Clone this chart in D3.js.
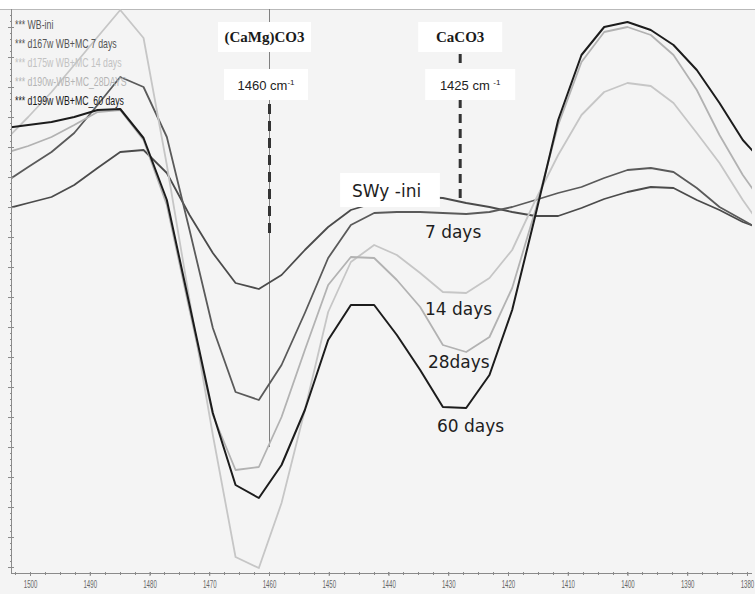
<!DOCTYPE html>
<html>
<head>
<meta charset="utf-8">
<script src="https://cdn.jsdelivr.net/npm/d3@7"></script>
<style>
  html, body { margin: 0; padding: 0; background: #ffffff; }
  svg { display: block; }
</style>
</head>
<body>
<svg id="chart" width="755" height="594"></svg>
<script>
// FTIR spectra, 1500-1380 cm-1 (arbitrary absorbance units)
const wavenumbers = [1504.1, 1500.3, 1496.4, 1492.6, 1488.7, 1484.9, 1481.0, 1477.1, 1473.3, 1469.4,
  1465.6, 1461.7, 1457.9, 1454.0, 1450.1, 1446.3, 1442.4, 1438.6, 1434.7, 1430.9,
  1427.0, 1423.1, 1419.3, 1415.4, 1411.6, 1407.7, 1403.9, 1400.0, 1396.1, 1392.3,
  1388.4, 1384.6, 1380.7, 1376.9];

const wbIni = [36.4, 37.0, 37.6, 38.8, 40.5, 42.1, 42.3, 40.0, 35.8, 32.0,
  29.0, 28.4, 29.8, 32.3, 34.6, 36.3, 37.0, 37.4, 37.6, 37.5,
  37.0, 36.6, 36.1, 35.7, 35.7, 36.5, 37.4, 38.1, 38.6, 38.5,
  37.3, 36.3, 35.1, 34.3];

const days7 = [39.1, 40.6, 42.1, 44.0, 46.8, 49.6, 48.6, 43.6, 34.3, 24.5,
  18.1, 17.3, 20.8, 26.0, 31.5, 34.8, 36.0, 36.1, 36.1, 36.0,
  35.9, 36.1, 36.6, 37.3, 38.0, 38.6, 39.5, 40.3, 40.5, 40.1,
  38.5, 36.6, 35.3, 34.0];

const days14 = [43.3, 45.6, 48.1, 50.8, 53.6, 56.3, 53.5, 40.8, 27.3, 13.8,
  1.6, 0.5, 7.0, 16.3, 26.1, 31.1, 32.8, 31.8, 30.0, 28.1,
  28.0, 29.5, 32.3, 37.3, 41.8, 45.8, 48.1, 49.0, 48.7, 47.0,
  44.0, 41.0, 37.3, 34.1];

const days28 = [42.0, 42.7, 43.6, 44.8, 46.1, 46.3, 43.3, 36.8, 26.3, 15.8,
  10.3, 10.6, 15.6, 22.3, 28.8, 31.6, 31.5, 29.3, 26.6, 22.8,
  22.1, 23.6, 28.5, 36.3, 44.8, 51.1, 54.1, 54.6, 53.8, 51.8,
  48.3, 43.8, 39.8, 36.6];

const days60 = [44.5, 44.8, 45.1, 45.6, 46.3, 46.4, 43.5, 37.3, 26.8, 16.0,
  8.8, 7.5, 10.8, 16.3, 23.3, 26.8, 26.8, 23.8, 20.3, 16.6,
  16.5, 19.8, 26.3, 35.8, 45.3, 51.8, 54.6, 55.1, 54.3, 52.8,
  50.3, 47.0, 43.3, 40.8];

const legendNames = ["*** WB-ini", "*** d167w WB+MC 7 days", "*** d175w WB+MC 14 days",
  "*** d190w-WB+MC_28DAYS", "*** d199w WB+MC_60 days"];
const curveTags = ["SWy -ini", "7 days", "14 days", "28days", "60 days"];
const lineColors = ["#4b4b4b", "#5a5a5a", "#c6c6c6", "#b2b2b2", "#1c1c1c"];
const legendColors = ["#555555", "#555555", "#c2c2c2", "#b4b4b4", "#1a1a1a"];

const xTickLabels = [1500, 1490, 1480, 1470, 1460, 1450, 1440, 1430, 1420, 1410, 1400, 1390, 1380];

const bandNames = ["(CaMg)CO3", "CaCO3"];
const bandWavenumbers = ["1460 cm", "1425 cm "];
const bandPositions = [1460, 1428];

const seriesValues = [wbIni, days7, days14, days28, days60];

(function draw() {
  const svg = d3.select("#chart");
  const W = 755, H = 594;
  const pLeft = 11, pRight = 752, pTop = 9, pBottom = 573;

  const x = d3.scaleLinear().domain([1503.35, 1379.16]).range([10, 752]);
  const y = d3.scaleLinear().domain([0, 56.4]).range([pBottom, pTop]);

  // plot background
  svg.append("rect").attr("x", 0).attr("y", pTop).attr("width", W).attr("height", H - pTop)
    .attr("fill", "#f4f4f4");
  svg.append("line").attr("x1", 0).attr("x2", W).attr("y1", pTop + 0.5).attr("y2", pTop + 0.5)
    .attr("stroke", "#b9b9b9").attr("stroke-width", 1);

  svg.append("defs").append("clipPath").attr("id", "plotClip")
    .append("rect").attr("x", pLeft).attr("y", pTop).attr("width", pRight - pLeft).attr("height", pBottom - pTop);

  // thin reference line at the dolomite band
  svg.append("line")
    .attr("x1", Math.round(x(bandPositions[0])) + 0.5).attr("x2", Math.round(x(bandPositions[0])) + 0.5)
    .attr("y1", pTop).attr("y2", y(12.6))
    .attr("stroke", "#808080").attr("stroke-width", 1);

  // spectra
  const lineGen = d3.line().x((d, i) => x(wavenumbers[i])).y(d => y(d)).curve(d3.curveLinear);
  const gLines = svg.append("g").attr("clip-path", "url(#plotClip)");
  seriesValues.forEach((vals, s) => {
    gLines.append("path").datum(vals)
      .attr("d", lineGen)
      .attr("fill", "none")
      .attr("stroke", lineColors[s])
      .attr("stroke-width", s === 4 ? 2 : 1.8)
      .attr("stroke-linejoin", "round");
  });

  // dashed band markers
  svg.append("line")
    .attr("x1", x(bandPositions[0]) + 0.5).attr("x2", x(bandPositions[0]) + 0.5)
    .attr("y1", 104).attr("y2", 240)
    .attr("stroke", "#333").attr("stroke-width", 3).attr("stroke-dasharray", "10,7");
  svg.append("line")
    .attr("x1", x(bandPositions[1])).attr("x2", x(bandPositions[1]))
    .attr("y1", 54).attr("y2", 200)
    .attr("stroke", "#333").attr("stroke-width", 3).attr("stroke-dasharray", "9,6");

  // band name boxes and wavenumber boxes
  const nameBoxes = [{dx: -4.5, w: 93}, {dx: 0, w: 84}];
  const wnBoxes = [{dx: -3, w: 84}, {dx: 10, w: 90}];
  bandNames.forEach((name, i) => {
    const cx = x(bandPositions[i]);
    svg.append("rect").attr("x", cx + nameBoxes[i].dx - nameBoxes[i].w / 2).attr("y", 22)
      .attr("width", nameBoxes[i].w).attr("height", 30).attr("fill", "#ffffff");
    svg.append("text").attr("x", cx + nameBoxes[i].dx).attr("y", 42)
      .attr("text-anchor", "middle")
      .attr("font-family", "'Liberation Serif', 'DejaVu Serif', serif")
      .attr("font-weight", "bold").attr("font-size", 15).attr("fill", "#1a1a1a")
      .text(name);

    svg.append("rect").attr("x", cx + wnBoxes[i].dx - wnBoxes[i].w / 2).attr("y", 69)
      .attr("width", wnBoxes[i].w).attr("height", 31).attr("fill", "#ffffff");
    const t = svg.append("text").attr("x", cx + wnBoxes[i].dx).attr("y", 90)
      .attr("text-anchor", "middle")
      .attr("font-family", "'Liberation Sans', Arial, sans-serif")
      .attr("font-size", 13).attr("fill", "#222");
    t.append("tspan").text(bandWavenumbers[i]);
    t.append("tspan").attr("font-size", 8).attr("dy", -5).text("-1");
  });

  // curve tags
  const tagAnchors = [[1446.1, 37.6], [1433.9, 33.5], [1433.9, 25.8], [1433.4, 20.5], [1431.9, 14.1]];
  svg.append("rect")
    .attr("x", x(1448.1)).attr("y", y(40.0))
    .attr("width", x(1431.4) - x(1448.1)).attr("height", y(36.6) - y(40.0))
    .attr("fill", "#ffffff");
  curveTags.forEach((tag, i) => {
    svg.append("text")
      .attr("x", x(tagAnchors[i][0])).attr("y", y(tagAnchors[i][1]))
      .attr("font-family", "'DejaVu Sans', sans-serif")
      .attr("font-size", 17).attr("fill", "#1e1e1e")
      .text(tag);
  });

  // legend (condensed text)
  legendNames.forEach((name, i) => {
    svg.append("text")
      .attr("transform", `translate(15,${28.5 + i * 19}) scale(0.7,1)`)
      .attr("font-family", "'Liberation Sans', Arial, sans-serif")
      .attr("font-size", 12.5).attr("fill", legendColors[i])
      .text(name);
  });

  // axes
  const axisColor = "#8a8a8a";
  svg.append("line").attr("x1", pLeft + 0.5).attr("x2", pLeft + 0.5).attr("y1", pTop).attr("y2", pBottom)
    .attr("stroke", axisColor).attr("stroke-width", 1);
  svg.append("line").attr("x1", pLeft).attr("x2", pRight).attr("y1", pBottom + 0.5).attr("y2", pBottom + 0.5)
    .attr("stroke", axisColor).attr("stroke-width", 1);

  // left axis ticks (unlabelled)
  const yMinor = d3.range(0.6, 56.4, 0.6);
  svg.append("g").selectAll("line").data(yMinor).join("line")
    .attr("x1", (d, i) => (i % 5 === 0 ? 8 : 10)).attr("x2", (d, i) => (i % 5 === 0 ? 14 : 12))
    .attr("y1", d => Math.round(y(d)) + 0.5).attr("y2", d => Math.round(y(d)) + 0.5)
    .attr("stroke", axisColor).attr("stroke-width", 1);

  // bottom axis
  const xMinor = d3.range(1502.5, 1378, -2.5);
  svg.append("g").selectAll("line").data(xMinor).join("line")
    .attr("x1", d => Math.round(x(d)) + 0.5).attr("x2", d => Math.round(x(d)) + 0.5)
    .attr("y1", pBottom - 1).attr("y2", pBottom + 2)
    .attr("stroke", axisColor).attr("stroke-width", 1);
  const xAxis = d3.axisBottom(x).tickValues(xTickLabels).tickSize(4).tickSizeOuter(0)
    .tickFormat(d3.format("d"));
  const gx = svg.append("g").attr("transform", `translate(0,${pBottom - 1})`).call(xAxis);
  gx.select(".domain").remove();
  gx.selectAll(".tick line").attr("stroke", axisColor);
  gx.selectAll(".tick text")
    .attr("font-family", "'Liberation Sans', Arial, sans-serif")
    .attr("font-size", 10.5).attr("fill", "#666").attr("dy", "0.9em")
    .attr("transform", "scale(0.58,1)");
})();
</script>
</body>
</html>
